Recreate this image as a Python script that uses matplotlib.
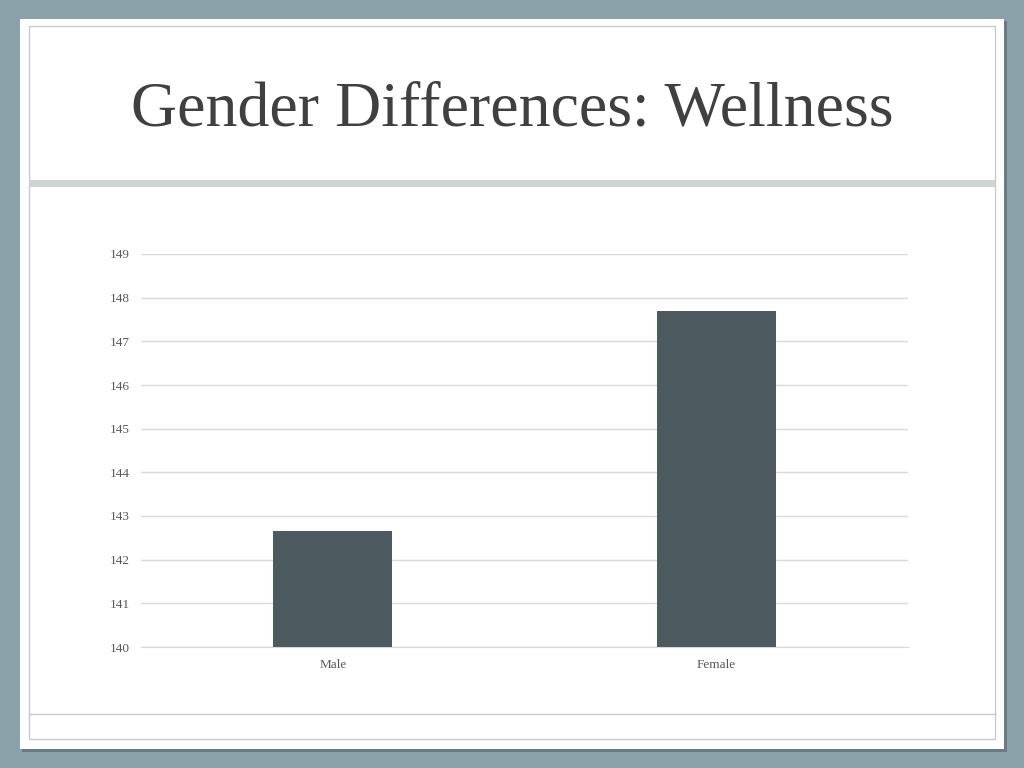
import matplotlib.pyplot as plt
from matplotlib.patches import Rectangle
from matplotlib.lines import Line2D

# Chart data
CATEGORIES = ['Male', 'Female']
VALUES = [142.65, 147.7]
Y_TICKS = list(range(140, 150))

fig = plt.figure(figsize=(10.24, 7.68), dpi=100)
fig.patch.set_facecolor('#8aa1a9')

W, H = 1024.0, 768.0

def box(x0, y0, x1, y1, **kw):
    # pixel coords (top-left origin) to figure fraction
    return Rectangle((x0 / W, 1 - y1 / H), (x1 - x0) / W, (y1 - y0) / H,
                     transform=fig.transFigure, **kw)

# slide shadow + white panel
fig.patches.append(box(22, 21, 1007, 752, facecolor='#6a7b82', edgecolor='none', zorder=0))
fig.patches.append(box(20, 19, 1004, 749, facecolor='white', edgecolor='none', zorder=1))
fig.patches.append(box(29, 26, 995, 739, facecolor='none', edgecolor='#c9c9c9', linewidth=1, zorder=2))
fig.patches.append(box(29, 180, 995, 187, facecolor='#cfd3d4', edgecolor='none', zorder=2))
fig.lines.append(Line2D([29 / W, 995 / W], [1 - 714 / H, 1 - 714 / H],
                        transform=fig.transFigure, color='#c9c9c9', linewidth=1, zorder=2))

fig.text(131 / W, 1 - 126 / H, 'Gender Differences: Wellness', family='Liberation Serif',
         fontsize=46, color='#404040', ha='left', va='baseline', zorder=3)

ax = fig.add_axes([141 / W, 1 - 647 / H, (908 - 141) / W, (647 - 254) / H])
ax.set_facecolor('none')
ax.set_zorder(3)
x = range(len(CATEGORIES))
ax.bar(x, VALUES, width=0.31, color='#4d5a60', zorder=3)
ax.set_xlim(-0.5, 1.5)
ax.set_ylim(140, 149)
ax.set_yticks(Y_TICKS)
ax.set_xticks(list(x))
ax.set_xticklabels(CATEGORIES)
ax.grid(axis='y', color='#d9d9d9', linewidth=1, zorder=0)
for s in ['top', 'right', 'left']:
    ax.spines[s].set_visible(False)
ax.spines['bottom'].set_color('#d9d9d9')
ax.tick_params(length=0, labelsize=9.5, labelcolor='#595959')
ax.tick_params(axis='y', pad=8)
ax.tick_params(axis='x', pad=9)
for lbl in ax.get_xticklabels() + ax.get_yticklabels():
    lbl.set_family('Liberation Serif')

fig.savefig('out.png', dpi=100, facecolor=fig.get_facecolor())
